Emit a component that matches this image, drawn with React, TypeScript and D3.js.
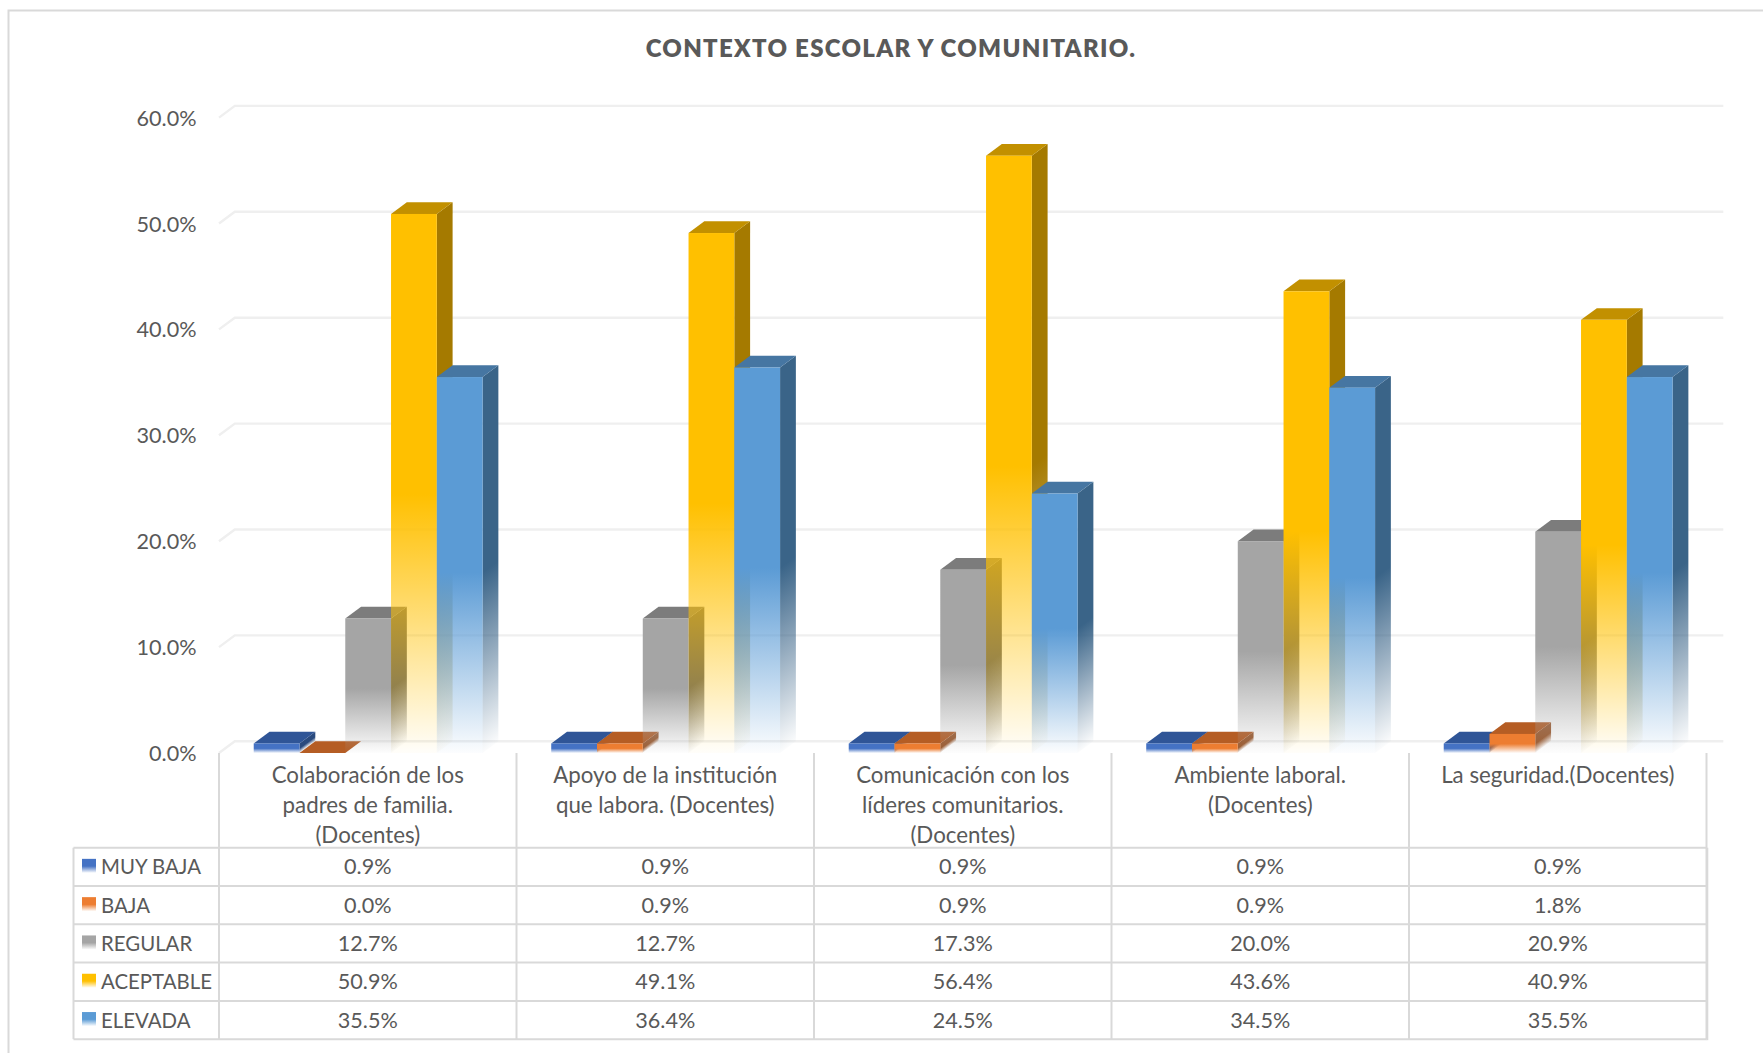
import React from "react";
import * as d3 from "d3";

const categories = [
  ["Colaboración de los", "padres de familia.", "(Docentes)"],
  ["Apoyo de la institución", "que labora. (Docentes)"],
  ["Comunicación con los", "líderes comunitarios.", "(Docentes)"],
  ["Ambiente laboral.", "(Docentes)"],
  ["La seguridad.(Docentes)"],
];
const seriesNames = ["MUY BAJA", "BAJA", "REGULAR", "ACEPTABLE", "ELEVADA"];
const muyBaja = [0.9, 0.9, 0.9, 0.9, 0.9];
const baja = [0.0, 0.9, 0.9, 0.9, 1.8];
const regular = [12.7, 12.7, 17.3, 20.0, 20.9];
const aceptable = [50.9, 49.1, 56.4, 43.6, 40.9];
const elevada = [35.5, 36.4, 24.5, 34.5, 35.5];
const seriesValues = [muyBaja, baja, regular, aceptable, elevada];
const yTicks = [0, 10, 20, 30, 40, 50, 60];
const frontColors = ["#4472C4", "#ED7D31", "#A5A5A5", "#FFC000", "#5B9BD5"];
const topColors = ["#2F5597", "#B55D24", "#7C7C7C", "#C29000", "#4676A2"];
const sideColors = ["#2A4A7E", "#9C5A2E", "#6A6A6A", "#A57A00", "#3A6488"];

const W = 1763;
const H = 1053;
const FONT = "Lato, 'Open Sans', sans-serif";
const TEXT = "#595959";
const LINE = "#D9D9D9";
const GRID = "#EFEFEF";
const plotL = 219;
const plotR = 1706.5;
const floorY = 753;
const depthX = 15.8;
const depthY = 11.7;
const barShift = 0.4;
const tableL = 73.5;
const rowTop = 847.7;
const rowH = 38.3;

const x0 = d3.scaleBand<number>().domain(d3.range(5)).range([plotL, plotR]);
const x1 = d3.scaleBand<number>().domain(d3.range(5)).range([0, x0.bandwidth()]).paddingInner(0).paddingOuter(0.75);
const y = d3.scaleLinear().domain([0, 60]).range([floorY, floorY - 60 * 10.59]);
const skewDeg = (-Math.atan2(depthY, depthX) * 180) / Math.PI;

const polyPath = (pts: [number, number][]) => d3.line()(pts) + "Z";

function Grad({ id, color }: { id: string; color: string }) {
  return (
    <linearGradient id={id} x1="0" y1="0" x2="0" y2="1">
      <stop offset="0" stopColor={color} stopOpacity={1} />
      <stop offset="0.52" stopColor={color} stopOpacity={1} />
      <stop offset="0.98" stopColor={color} stopOpacity={0.06} />
      <stop offset="1" stopColor={color} stopOpacity={0.02} />
    </linearGradient>
  );
}

export default function App() {
  return (
    <svg
      width={W}
      height={H}
      viewBox={`0 0 ${W} ${H}`}
      style={{ position: "absolute", left: 0, top: 0, display: "block", background: "#fff" }}
    >
      <defs>
        {frontColors.map((c, i) => <Grad key={i} id={`f${i}`} color={c} />)}
        {sideColors.map((c, i) => <Grad key={i} id={`s${i}`} color={c} />)}
      </defs>

      <path d={`M8.5 1053V10.5H1763`} fill="none" stroke={LINE} strokeWidth={2} />

      <text x={891} y={57} textAnchor="middle" fontFamily={FONT} fontWeight={800} fontSize={24} letterSpacing={1.3} fill={TEXT}>
        CONTEXTO ESCOLAR Y COMUNITARIO.
      </text>

      {yTicks.map((t) => (
        <g key={t}>
          <path
            d={`M${plotL} ${y(t)}L${plotL + depthX} ${y(t) - depthY}H${plotR + depthX + 1}`}
            fill="none"
            stroke={GRID}
            strokeWidth={2.4}
          />
          <text x={196.5} y={y(t) + 8} textAnchor="end" fontFamily={FONT} fontSize={21.6} fill={TEXT}>
            {d3.format(".1f")(t)}%
          </text>
        </g>
      ))}

      {categories.map((_, c) =>
        seriesValues.map((vals, s) => {
          const v = vals[c];
          const left = x0(c)! + x1(s)! + barShift;
          const w = x1.bandwidth();
          const top = y(v);
          const h = floorY - top;
          return (
            <g key={`${c}-${s}`}>
              {h > 0 && (
                <rect
                  x={0}
                  y={0}
                  width={depthX}
                  height={h}
                  transform={`translate(${left + w},${top}) skewY(${skewDeg})`}
                  fill={`url(#s${s})`}
                />
              )}
              <path
                d={polyPath([
                  [left, top],
                  [left + depthX, top - depthY],
                  [left + w + depthX, top - depthY],
                  [left + w, top],
                ])}
                fill={topColors[s]}
              />
              {h > 0 && <rect x={left} y={top} width={w} height={h} fill={`url(#f${s})`} />}
            </g>
          );
        })
      )}

      {/* table */}
      <g stroke={LINE} strokeWidth={2} fill="none">
        {d3.range(6).map((i) => {
          const xp = i < 5 ? x0(i)! : plotR;
          return <line key={i} x1={xp} x2={xp} y1={floorY} y2={rowTop + 5 * rowH} />;
        })}
        {d3.range(6).map((i) => (
          <line key={i} x1={tableL} x2={plotR} y1={rowTop + i * rowH} y2={rowTop + i * rowH} />
        ))}
        <line x1={tableL} x2={tableL} y1={rowTop} y2={rowTop + 5 * rowH} />
        <line x1={plotR + 0.8} x2={plotR + 0.8} y1={rowTop} y2={rowTop + 5 * rowH + 1} />
      </g>

      {categories.map((lines, c) =>
        lines.map((ln, i) => (
          <text
            key={`${c}-${i}`}
            x={x0(c)! + x0.bandwidth() / 2}
            y={783.3 + i * 29.7}
            textAnchor="middle"
            fontFamily={FONT}
            fontSize={22.3}
            fill={TEXT}
          >
            {ln}
          </text>
        ))
      )}

      {seriesNames.map((name, s) => {
        const cy = rowTop + (s + 0.5) * rowH;
        return (
          <g key={name}>
            <rect x={82} y={cy - 8} width={14} height={14} fill={`url(#f${s})`} />
            <text x={101} y={cy + 7.5} fontFamily={FONT} fontSize={20.4} fill={TEXT}>
              {name}
            </text>
            {seriesValues[s].map((v, c) => (
              <text
                key={c}
                x={x0(c)! + x0.bandwidth() / 2}
                y={cy + 7.5}
                textAnchor="middle"
                fontFamily={FONT}
                fontSize={21.6}
                fill={TEXT}
              >
                {d3.format(".1f")(v)}%
              </text>
            ))}
          </g>
        );
      })}
    </svg>
  );
}
